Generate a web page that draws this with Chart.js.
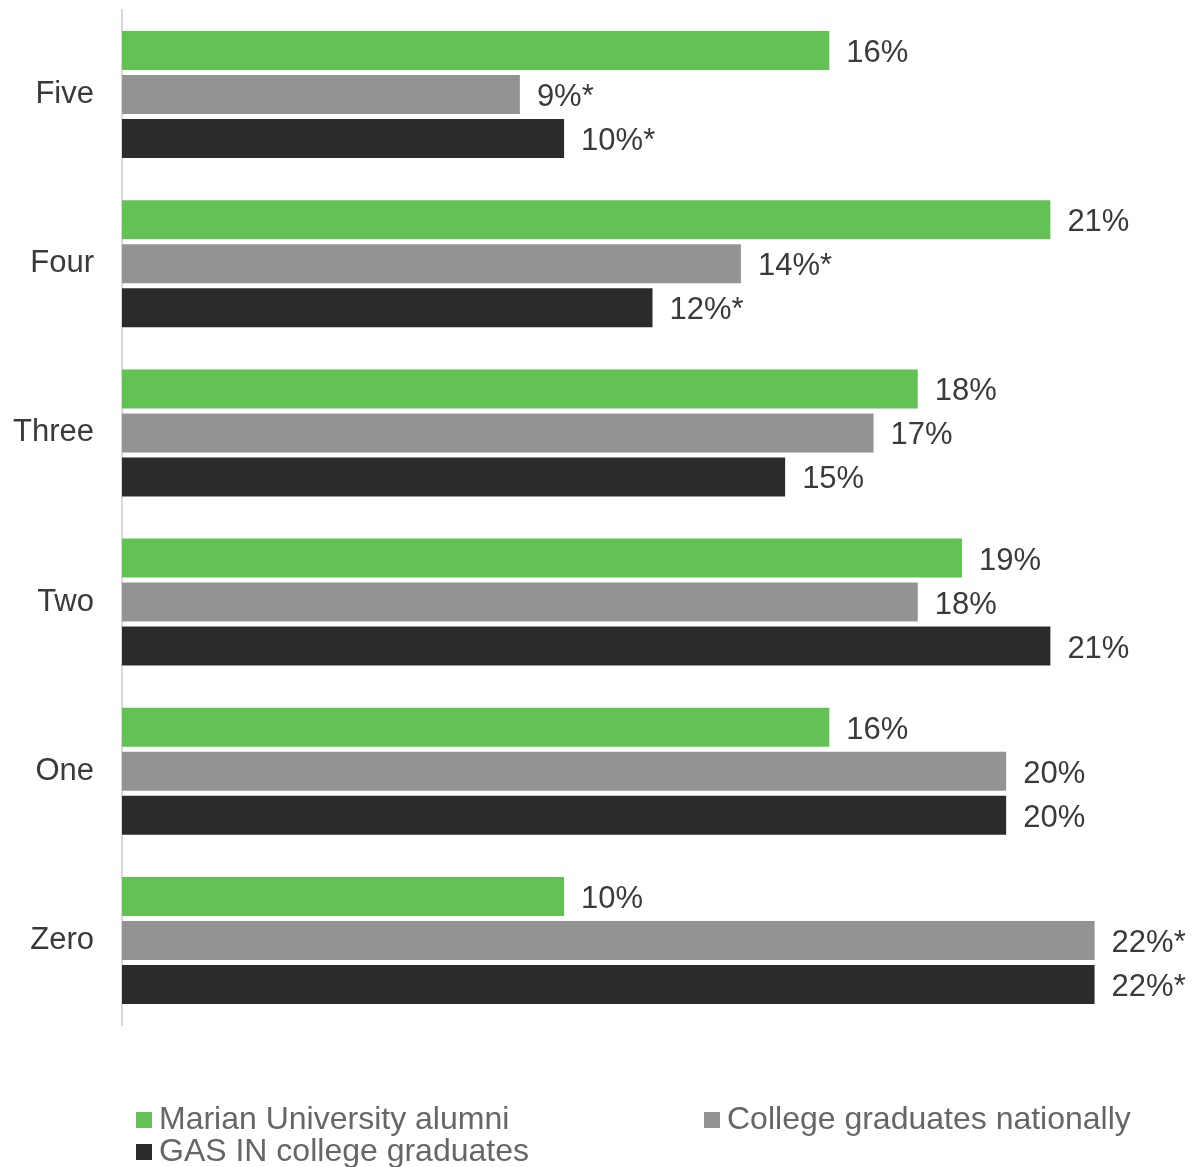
<!DOCTYPE html>
<html>
<head>
<meta charset="utf-8">
<script src="https://cdn.jsdelivr.net/npm/chart.js@4.4.1/dist/chart.umd.min.js"></script>
<style>
  html, body { margin: 0; padding: 0; background: #fff; }
  #wrap { position: relative; width: 1195px; height: 1167px; overflow: hidden; }
  #c { position: absolute; left: 0; top: 0; }
  .leg { position: absolute; font-family: "Liberation Sans", Arial, sans-serif; font-size: 32px; color: #666; line-height: 32px; white-space: nowrap; }
  .leg i { display: inline-block; width: 16px; height: 16px; margin-right: 7px; vertical-align: 1px; }
</style>
</head>
<body>
<div id="wrap">
  <canvas id="c" width="1195" height="1167"></canvas>
  <div class="leg" style="left:136px; top:1102px;"><i style="background:#62c254"></i>Marian University alumni</div>
  <div class="leg" style="left:704px; top:1102px;"><i style="background:#939393"></i>College graduates nationally</div>
  <div class="leg" style="left:136px; top:1134px;"><i style="background:#2b2b2b"></i>GAS IN college graduates</div>
</div>
<script>
const categories = ["Five", "Four", "Three", "Two", "One", "Zero"];
const seriesNames = ["Marian University alumni", "College graduates nationally", "GAS IN college graduates"];
const marianValues = [16, 21, 18, 19, 16, 10];
const nationalValues = [9, 14, 17, 18, 20, 22];
const gasInValues = [10, 12, 15, 21, 20, 22];
const marianSig = [false, false, false, false, false, false];
const nationalSig = [true, true, false, false, false, true];
const gasInSig = [true, true, false, false, false, true];
const seriesColors = ["#62c254", "#939393", "#2b2b2b"];

const FONT = '"Liberation Sans", Arial, sans-serif';

const labelPlugin = {
  id: 'barLabels',
  afterDatasetsDraw(chart) {
    const ctx = chart.ctx;
    ctx.save();
    ctx.font = '31px ' + FONT;
    ctx.fillStyle = '#3a3a3a';
    ctx.textBaseline = 'middle';
    ctx.textAlign = 'left';
    chart.data.datasets.forEach((ds, di) => {
      const meta = chart.getDatasetMeta(di);
      meta.data.forEach((bar, i) => {
        const txt = ds.data[i] + '%' + (ds.sig[i] ? '*' : '');
        ctx.fillText(txt, bar.x + 17, bar.y + 3);
      });
    });
    ctx.restore();
  }
};

new Chart(document.getElementById('c'), {
  type: 'bar',
  data: {
    labels: categories,
    datasets: [
      { label: seriesNames[0], data: marianValues, sig: marianSig, backgroundColor: seriesColors[0] },
      { label: seriesNames[1], data: nationalValues, sig: nationalSig, backgroundColor: seriesColors[1] },
      { label: seriesNames[2], data: gasInValues, sig: gasInSig, backgroundColor: seriesColors[2] }
    ]
  },
  options: {
    indexAxis: 'y',
    responsive: false,
    animation: false,
    devicePixelRatio: 1,
    layout: { padding: { top: 10, bottom: 142, right: 12, left: 0 } },
    datasets: { bar: { categoryPercentage: 0.78, barPercentage: 0.886 } },
    plugins: { legend: { display: false }, tooltip: { enabled: false } },
    scales: {
      x: { display: false, min: 0, max: 24 },
      y: {
        afterFit(scale) { scale.width = 122; scale.paddingTop = 0; scale.paddingBottom = 0; },
        grid: { display: false, drawTicks: false },
        border: { display: true, color: '#d9d9d9', width: 2 },
        ticks: { padding: 28, color: '#3a3a3a', font: { family: FONT, size: 31 } }
      }
    }
  },
  plugins: [labelPlugin]
});
</script>
</body>
</html>
